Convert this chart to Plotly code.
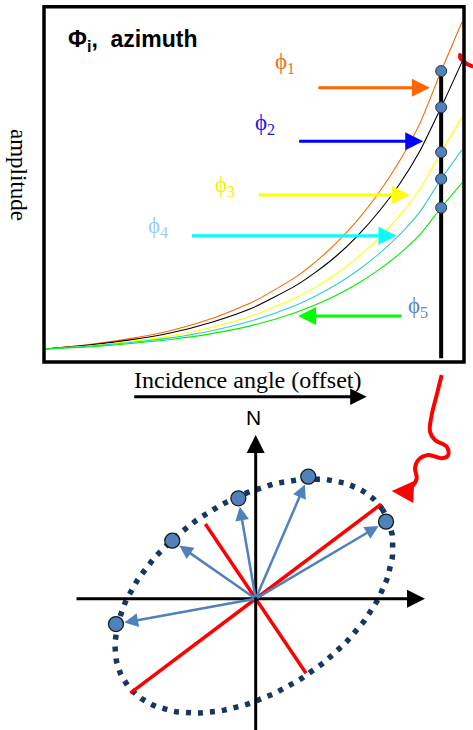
import numpy as np
import plotly.graph_objects as go

W, H = 473, 730

# ---------------- top panel data: amplitude vs incidence angle ----------------
incidence = [0, 10, 20, 30, 40, 50, 60, 65, 70, 75, 80, 85, 90, 95, 100]
amp_orange = [0, 1.3, 3.1, 5.6, 9.3, 14.5, 21.9, 26.8, 32.6, 39.5, 47.7, 57.4, 69.3, 85.0, 100]
amp_black = [0, 1.1, 2.7, 4.9, 8.2, 12.7, 19.3, 23.6, 28.6, 34.7, 41.9, 50.4, 60.8, 73.9, 87.8]
amp_yellow = [0, 0.9, 2.2, 4.0, 6.6, 10.3, 15.6, 19.0, 23.1, 28.1, 33.8, 40.7, 49.1, 60.2, 70.9]
amp_cyan = [0, 0.8, 1.9, 3.4, 5.6, 8.8, 13.3, 16.3, 19.8, 24.0, 29.0, 34.9, 42.1, 52.0, 60.9]
amp_green = [0, 0.6, 1.6, 2.9, 4.7, 7.3, 11.1, 13.6, 16.5, 20.0, 24.2, 29.1, 35.1, 43.2, 50.8]
picked_index = 13  # incidence = 95, the sampled offset

phi_labels = ["ϕ<sub>1</sub>", "ϕ<sub>2</sub>", "ϕ<sub>3</sub>", "ϕ<sub>4</sub>", "ϕ<sub>5</sub>"]

# ---------------- bottom panel data: azimuth plane ----------------
azimuth_deg = [30.6, 66.7, 99.8, 145.2, 190.3]
radius = [151.4, 132.9, 101.9, 101.6, 142.0]
ellipse_semi_major = 155
ellipse_semi_minor = 95
ellipse_tilt_deg = 34
ellipse_center = [-1.7, 2.7]
red_axes_deg = [37, 124]
red_axes_half_len = [157, 90]

# decoration (whole-figure pixel frame)
squiggle_x = [441.7, 436.7, 431.7, 430, 435, 446.7, 448.3, 441.7, 428.3, 418.3, 415, 416.7, 411.7, 403.3]
squiggle_y = [375, 395, 415, 431.7, 440, 446.7, 455, 458.3, 455, 460, 468.3, 478.3, 486.7, 491]
arc_x = [460.7, 460, 461, 463.3, 468, 473.3]
arc_y = [53.3, 56.7, 59, 61, 64.5, 66.7]


def px(x, y):
    return x / W, 1 - y / H


fig = go.Figure()

curve_colors = ["#FF6600", "#000000", "#FFFF00", "#33CCCC", "#00EE00"]
curves = [amp_orange, amp_black, amp_yellow, amp_cyan, amp_green]
for amp, col in zip(curves, curve_colors):
    fig.add_trace(go.Scatter(x=incidence, y=amp, mode="lines",
                             line=dict(color=col, width=1.1, shape="spline", smoothing=0.6),
                             xaxis="x", yaxis="y", hoverinfo="skip"))

pick_x = incidence[picked_index]
pick_y = [a[picked_index] for a in curves]
fig.add_trace(go.Scatter(x=[pick_x, pick_x], y=[-2.8, max(pick_y)], mode="lines",
                         line=dict(color="black", width=4), xaxis="x", yaxis="y"))
fig.add_trace(go.Scatter(x=[pick_x] * len(pick_y), y=pick_y, mode="markers",
                         marker=dict(size=11, color="#4F81BD", line=dict(color="#1F3550", width=1)),
                         xaxis="x", yaxis="y"))

# bottom: ellipse
t = np.linspace(0, 2 * np.pi, 200)
th = np.radians(ellipse_tilt_deg)
ex = ellipse_center[0] + ellipse_semi_major * np.cos(t) * np.cos(th) - ellipse_semi_minor * np.sin(t) * np.sin(th)
ey = ellipse_center[1] + ellipse_semi_major * np.cos(t) * np.sin(th) + ellipse_semi_minor * np.sin(t) * np.cos(th)
fig.add_trace(go.Scatter(x=ex, y=ey, mode="lines",
                         line=dict(color="#17375E", width=5.5, dash="5px,7px"),
                         xaxis="x2", yaxis="y2"))

for ang, hl in zip(red_axes_deg, red_axes_half_len):
    a = np.radians(ang)
    fig.add_trace(go.Scatter(x=[-hl * np.cos(a), hl * np.cos(a)], y=[-hl * np.sin(a), hl * np.sin(a)],
                             mode="lines", line=dict(color="#FF0000", width=3.5),
                             xaxis="x2", yaxis="y2"))

dot_x = [r * np.cos(np.radians(a)) for r, a in zip(radius, azimuth_deg)]
dot_y = [r * np.sin(np.radians(a)) for r, a in zip(radius, azimuth_deg)]
fig.add_trace(go.Scatter(x=dot_x, y=dot_y, mode="markers",
                         marker=dict(size=15, color="#4F81BD", line=dict(color="#1A1A1A", width=1.3)),
                         xaxis="x2", yaxis="y2"))

# decorations in pixel frame
fig.add_trace(go.Scatter(x=squiggle_x, y=squiggle_y, mode="lines",
                         line=dict(color="#FF0000", width=4, shape="spline", smoothing=1),
                         xaxis="x3", yaxis="y3"))
fig.add_trace(go.Scatter(x=arc_x, y=arc_y, mode="lines",
                         line=dict(color="#FF0000", width=4, shape="spline", smoothing=1),
                         xaxis="x3", yaxis="y3"))

ann = []
# colored arrows in top panel
arrows = [
    (65.2, 92.3, 79.9, "#FF6600"),
    (60.6, 90.7, 63.5, "#0000FF"),
    (50.9, 87.5, 47.1, "#FFFF00"),
    (34.9, 84.3, 34.6, "#00FFFF"),
    (85.9, 60.7, 10.1, "#00FF00"),
]
for x0, x1, yy, col in arrows:
    ann.append(dict(x=x1, y=yy, ax=x0, ay=yy, xref="x", yref="y", axref="x", ayref="y",
                    showarrow=True, arrowhead=2, arrowsize=1.2, arrowwidth=3, arrowcolor=col, text=""))

label_pos = [(57.6, 87.5, "#F26B1D"), (52.8, 68.8, "#1A1AE6"), (43.2, 49.9, "#F5F000"),
             (27.1, 37.4, "#99CCFF"), (89.4, 12.9, "#5B87C5")]
for (lx, ly, col), txt in zip(label_pos, phi_labels):
    ann.append(dict(x=lx, y=ly, xref="x", yref="y", text=txt, showarrow=False,
                    xanchor="center", yanchor="middle",
                    font=dict(family="Liberation Serif", size=23, color=col)))

x_, y_ = px(66, 40)
ann.append(dict(x=x_, y=y_, xref="paper", yref="paper", xanchor="left", yanchor="middle",
                text="<b>Φ<sub>i</sub>,&nbsp; azimuth</b>", showarrow=False,
                font=dict(family="Liberation Sans", size=23, color="black")))
x_, y_ = px(18, 175)
ann.append(dict(x=x_, y=y_, xref="paper", yref="paper", text="amplitude", textangle=90,
                xanchor="center", yanchor="middle",
                showarrow=False, font=dict(family="Liberation Serif", size=23, color="black")))
x_, y_ = px(247.5, 380)
ann.append(dict(x=x_, y=y_, xref="paper", yref="paper", text="Incidence angle (offset)",
                xanchor="center", yanchor="middle",
                showarrow=False, font=dict(family="Liberation Serif", size=24, color="black")))
x_, y_ = px(366.7, 396.7)
ann.append(dict(x=x_, y=y_, xref="paper", yref="paper", ax=-234, ay=0, text="", showarrow=True,
                arrowhead=2, arrowsize=1.1, arrowwidth=3, arrowcolor="black"))

# bottom axes arrows
ann.append(dict(x=169.3, y=0, ax=-180.7, ay=0, xref="x2", yref="y2", axref="x2", ayref="y2",
                text="", showarrow=True, arrowhead=2, arrowsize=1.2, arrowwidth=3, arrowcolor="black"))
ann.append(dict(x=0, y=163.7, ax=0, ay=-135, xref="x2", yref="y2", axref="x2", ayref="y2",
                text="", showarrow=True, arrowhead=2, arrowsize=1.2, arrowwidth=3, arrowcolor="black"))
ann.append(dict(x=-2.4, y=181.4, xref="x2", yref="y2", text="N", showarrow=False,
                xanchor="center", yanchor="middle",
                font=dict(family="Liberation Sans", size=21, color="black")))
# blue vectors
for dx, dy in zip(dot_x, dot_y):
    ann.append(dict(x=dx, y=dy, ax=0, ay=0, xref="x2", yref="y2", axref="x2", ayref="y2",
                    text="", showarrow=True, arrowhead=2, arrowsize=1.1, arrowwidth=2.5,
                    arrowcolor="#4F81BD", standoff=8.5))
# squiggle arrow head
ann.append(dict(x=391.7, y=491, ax=404, ay=491.5, xref="x3", yref="y3", axref="x3", ayref="y3",
                text="", showarrow=True, arrowhead=2, arrowsize=1.1, arrowwidth=4, arrowcolor="#FF0000"))

shapes = [dict(type="rect", xref="paper", yref="paper",
               x0=44 / W, x1=464 / W, y0=1 - 362 / H, y1=1 - 6.7 / H,
               line=dict(color="black", width=3.5), layer="above")]

hidden = dict(visible=False, showgrid=False, zeroline=False, fixedrange=True)
fig.update_layout(
    width=W, height=H, margin=dict(l=0, r=0, t=0, b=0),
    paper_bgcolor="white", plot_bgcolor="rgba(0,0,0,0)", showlegend=False,
    xaxis=dict(domain=[44 / W, 464 / W], range=[-0.24, 100.48], anchor="y", **hidden),
    yaxis=dict(domain=[1 - 362 / H, 1 - 6.7 / H], range=[-3.98, 104.68], anchor="x", **hidden),
    xaxis2=dict(domain=[0, 1], range=[-255.7, 217.3], anchor="y2", **hidden),
    yaxis2=dict(domain=[0, 1 - 366 / H], range=[-131.3, 232.7], anchor="x2", **hidden),
    xaxis3=dict(domain=[0, 1], range=[0, W], anchor="y3", **hidden),
    yaxis3=dict(domain=[0, 1], range=[H, 0], anchor="x3", **hidden),
    annotations=ann, shapes=shapes,
)

fig.write_html("out.html", config={"displayModeBar": False},
               post_script="document.body.style.margin='0px';document.body.style.overflow='hidden';")
